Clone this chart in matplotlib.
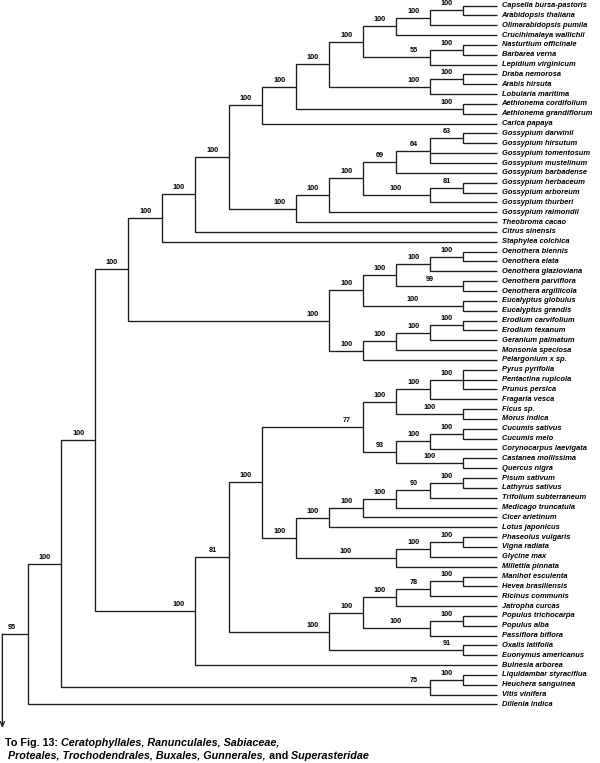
import numpy as np
import matplotlib.pyplot as plt
from matplotlib.transforms import offset_copy, IdentityTransform

# tweak matplotlib settings
plt.rcParams['font.family'] = 'Liberation Sans'

# tree data (newick pieces, bootstrap support after each closing bracket)
brassicaceae = ("(((((Capsella bursa-pastoris,Arabidopsis thaliana)100,Olimarabidopsis pumila)100,"
                "Crucihimalaya wallichii)100,((Nasturtium officinale,Barbarea verna)100,Lepidium virginicum)55)100,"
                "((Draba nemorosa,Arabis hirsuta)100,Lobularia maritima)100)100")
gossypium = ("(((((Gossypium darwinii,Gossypium hirsutum)63,Gossypium tomentosum,Gossypium mustelinum)64,"
             "Gossypium barbadense)69,((Gossypium herbaceum,Gossypium arboreum)81,Gossypium thurberi)100)100,"
             "Gossypium raimondii)100")
myrtales = ("((((Oenothera biennis,Oenothera elata)100,Oenothera glazioviana)100,"
            "(Oenothera parviflora,Oenothera argillicola)99)100,(Eucalyptus globulus,Eucalyptus grandis)100)100")
geraniales = ("((((Erodium carvifolium,Erodium texanum)100,Geranium palmatum)100,Monsonia speciosa)100,"
              "Pelargonium x sp.)100")
rosales_etc = ("((((Pyrus pyrifolia,Pentactina rupicola,Prunus persica)100,Fragaria vesca)100,"
               "(Ficus sp.,Morus indica)100)100,(((Cucumis sativus,Cucumis melo)100,Corynocarpus laevigata)100,"
               "(Castanea mollissima,Quercus nigra)100)93)77")
fabales = ("((((((Pisum sativum,Lathyrus sativus)100,Trifolium subterraneum)90,Medicago truncatula)100,"
           "Cicer arietinum)100,Lotus japonicus)100,(((Phaseolus vulgaris,Vigna radiata)100,Glycine max)100,"
           "Millettia pinnata)100)100")
malpighiales = ("((((Manihot esculenta,Hevea brasiliensis)100,Ricinus communis)78,Jatropha curcas)100,"
                "((Populus trichocarpa,Populus alba)100,Passiflora biflora)100)100")

brassicales = f"(({brassicaceae},(Aethionema cordifolium,Aethionema grandiflorum)100)100,Carica papaya)100"
malvales = f"({gossypium},Theobroma cacao)100"
malvids = f"(((({brassicales},{malvales})100,Citrus sinensis)100,Staphylea colchica)100,({myrtales},{geraniales})100)100"
com = f"({malpighiales},(Oxalis latifolia,Euonymus americanus)91)100"
fabids = f"((({rosales_etc},{fabales})100,{com})81,Bulnesia arborea)100"
tree = (f"((({malvids},{fabids})100,((Liquidambar styraciflua,Heuchera sanguinea)100,Vitis vinifera)75)100,"
        "Dillenia indica)95")

# clades whose support value sits in the middle of the branch
mid_labels = [('Oenothera parviflora', 'Oenothera argillicola'),
              ('Eucalyptus globulus', 'Eucalyptus grandis'),
              ('Gossypium herbaceum', 'Gossypium thurberi'),
              ('Ficus sp.', 'Morus indica'),
              ('Castanea mollissima', 'Quercus nigra'),
              ('Phaseolus vulgaris', 'Millettia pinnata'),
              ('Populus trichocarpa', 'Passiflora biflora')]

caption1 = [('To Fig. 13:', 'normal'), (' Ceratophyllales, Ranunculales, Sabiaceae,', 'italic')]
caption2 = [(' Proteales, Trochodendrales, Buxales, Gunnerales,', 'italic'), (' and', 'normal'),
            (' Superasteridae', 'italic')]


# parse newick
def parse(s):
    pos = 0

    def node():
        nonlocal pos
        if s[pos] == '(':
            pos += 1
            kids = [node()]
            while s[pos] == ',':
                pos += 1
                kids.append(node())
            pos += 1
            start = pos
            while pos < len(s) and s[pos] not in ',()':
                pos += 1
            return {'kids': kids, 'support': s[start:pos]}
        start = pos
        while s[pos] not in ',()':
            pos += 1
        return {'name': s[start:pos]}
    return node()


root = parse(tree)
leaves = []


def layout(n):
    if 'name' in n:
        n['y'] = len(leaves)
        n['h'] = 0
        n['first'] = n['last'] = n['name']
        leaves.append(n['name'])
    else:
        for k in n['kids']:
            layout(k)
        n['h'] = max(k['h'] for k in n['kids']) + 1
        n['y'] = (n['kids'][0]['y'] + n['kids'][-1]['y']) / 2
        n['first'] = n['kids'][0]['first']
        n['last'] = n['kids'][-1]['last']


layout(root)

# pixel geometry of the cladogram
W, H = 600, 763
leaf_px, step_px = 496.5, 33.5
top_px, row_px = 5.5, 9.845

fig = plt.figure(figsize=(W / 100, H / 100), dpi=100)
ax = fig.add_axes([0, 0, 1, 1])
ax.set_xlim(leaf_px / step_px, (leaf_px - W) / step_px)
ax.set_ylim((H - top_px) / row_px, -top_px / row_px)
ax.axis('off')

lc = '#1a1a1a'
lw = 0.95
leaf_tr = offset_copy(ax.transData, fig=fig, x=5, y=0, units='dots')
sup_tr = offset_copy(ax.transData, fig=fig, x=0, y=6.5, units='dots')


def draw(n, parent_h):
    if 'name' in n:
        ax.text(0, n['y'], n['name'], transform=leaf_tr, fontsize=5.45, fontweight='bold',
                fontstyle='italic', va='center', ha='left')
        return
    ks = n['kids']
    ax.plot([ks[0]['h'], n['h'], n['h'], ks[-1]['h']],
            [ks[0]['y'], ks[0]['y'], ks[-1]['y'], ks[-1]['y']],
            color=lc, lw=lw, solid_joinstyle='miter', solid_capstyle='butt')
    for k in ks[1:-1]:
        ax.plot([k['h'], n['h']], [k['y'], k['y']], color=lc, lw=lw, solid_capstyle='butt')
    if (n['first'], n['last']) in mid_labels:
        lx = (n['h'] + parent_h) / 2
    else:
        lx = n['h'] + 16 / step_px
    ax.text(lx, n['y'], n['support'], transform=sup_tr, fontsize=5.2, fontweight='bold',
            ha='center', va='center')
    for k in ks:
        draw(k, n['h'])


root_h = root['h'] + 0.75
draw(root, root_h)

# root stub and arrow to the next figure
ax.plot([root['h'], root_h], [root['y'], root['y']], color=lc, lw=lw, solid_capstyle='butt')
arrow_tip = offset_copy(ax.transData, fig=fig, x=0, y=-94, units='dots')
ax.annotate('', xy=(root_h, root['y']), xycoords=arrow_tip,
            xytext=(root_h, root['y']), textcoords='data',
            arrowprops=dict(arrowstyle='->,head_length=0.35,head_width=0.15', color=lc, lw=lw,
                            shrinkA=0, shrinkB=0))

# caption with mixed styles
fig.canvas.draw()
r = fig.canvas.get_renderer()


def rich_line(x, y, parts):
    for txt, style in parts:
        t = fig.text(x, y, txt, transform=IdentityTransform(), fontsize=7.75, fontweight='bold',
                     fontstyle=style, va='center', ha='left')
        x += t.get_window_extent(renderer=r).width


rich_line(5, H - 743, caption1)
rich_line(5, H - 756, caption2)

plt.savefig('out.png', dpi=100)
